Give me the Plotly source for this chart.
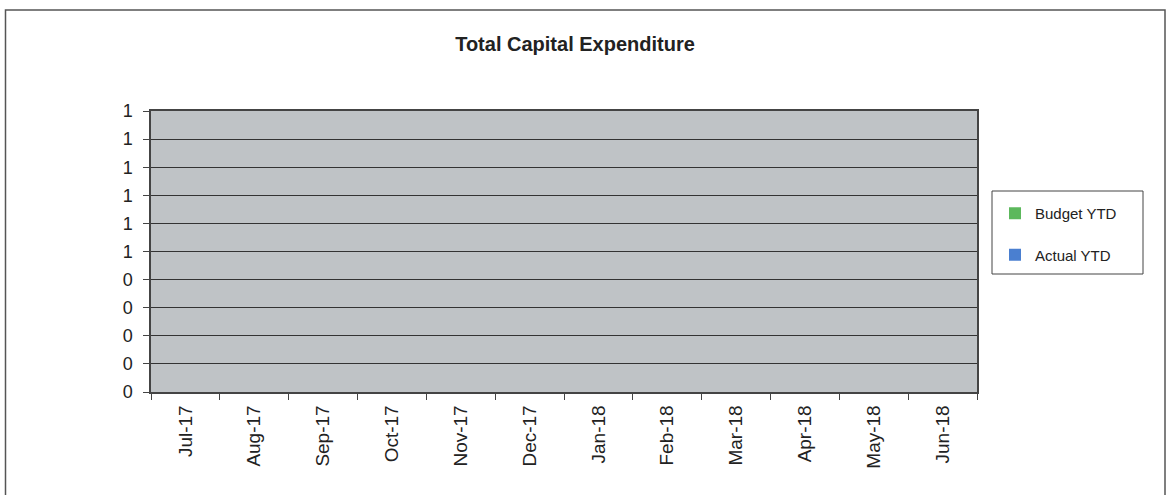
import plotly.graph_objects as go

months = ["Jul-17", "Aug-17", "Sep-17", "Oct-17", "Nov-17", "Dec-17",
          "Jan-18", "Feb-18", "Mar-18", "Apr-18", "May-18", "Jun-18"]
budget_ytd = [0, 0, 0, 0, 0, 0, 0, 0, 0, 0, 0, 0]
actual_ytd = [0, 0, 0, 0, 0, 0, 0, 0, 0, 0, 0, 0]
y_tick_values = [0, 0.1, 0.2, 0.3, 0.4, 0.5, 0.6, 0.7, 0.8, 0.9, 1.0]
y_tick_labels = ["0", "0", "0", "0", "0", "1", "1", "1", "1", "1", "1"]

W, H = 1166, 495
L, R, T, B = 151, 189, 111, 103
pw, ph = W - L - R, H - T - B

def px_x(p):
    return (p - L) / pw

def px_y(p):
    return (H - B - p) / ph

FONT = "Arial, 'Liberation Sans', sans-serif"

fig = go.Figure()
fig.add_trace(go.Bar(x=months, y=budget_ytd, name="Budget YTD",
                     marker=dict(color="#5cb85c", line=dict(width=0)),
                     legendgroup="b"))
fig.add_trace(go.Bar(x=months, y=actual_ytd, name="Actual YTD",
                     marker=dict(color="#4a7fd0", line=dict(width=0)),
                     legendgroup="a"))

fig.update_layout(
    width=W, height=H,
    margin=dict(l=L, r=R, t=T, b=B, autoexpand=False),
    paper_bgcolor="white",
    plot_bgcolor="#bfc3c6",
    font=dict(family=FONT, color="#222"),
    title=dict(text="<b>Total Capital Expenditure</b>", x=575 / W, xanchor="center",
               y=1 - 44 / H, yanchor="middle", font=dict(size=20, color="#222")),
    barmode="group",
    showlegend=True,
    legend=dict(x=px_x(995), xanchor="left", y=px_y(197), yanchor="top",
                font=dict(size=15, color="#222"), bgcolor="rgba(0,0,0,0)",
                borderwidth=0, tracegroupgap=19, traceorder="grouped"),
    xaxis=dict(type="category", showgrid=False, tickangle=-90,
               ticks="outside", ticklen=6, tickcolor="#444", tickson="boundaries",
               showline=True, linecolor="#444", linewidth=1.5, mirror=True,
               ticklabelstandoff=4,
               tickfont=dict(size=19, color="#222"), range=[-0.5, 11.5]),
    yaxis=dict(range=[0, 1.0], tickvals=y_tick_values, ticktext=y_tick_labels,
               showgrid=True, gridcolor="#333", gridwidth=1,
               ticks="outside", ticklen=6, tickcolor="#444",
               showline=True, linecolor="#444", linewidth=1.5, mirror=True,
               zeroline=False, ticklabelstandoff=7,
               tickfont=dict(size=18, color="#222")),
    shapes=[
        dict(type="rect", xref="paper", yref="paper",
             x0=px_x(5.5), x1=px_x(1165), y0=px_y(520), y1=px_y(10),
             line=dict(color="#555", width=1.5), fillcolor="rgba(0,0,0,0)", layer="below"),
        dict(type="rect", xref="paper", yref="paper",
             x0=px_x(992), x1=px_x(1143), y0=px_y(274), y1=px_y(191),
             line=dict(color="#444", width=1), fillcolor="rgba(0,0,0,0)"),
    ],
)

fig.write_html("out.html", config={"displayModeBar": False},
               post_script="document.body.style.margin='0';document.body.style.overflow='hidden';")
